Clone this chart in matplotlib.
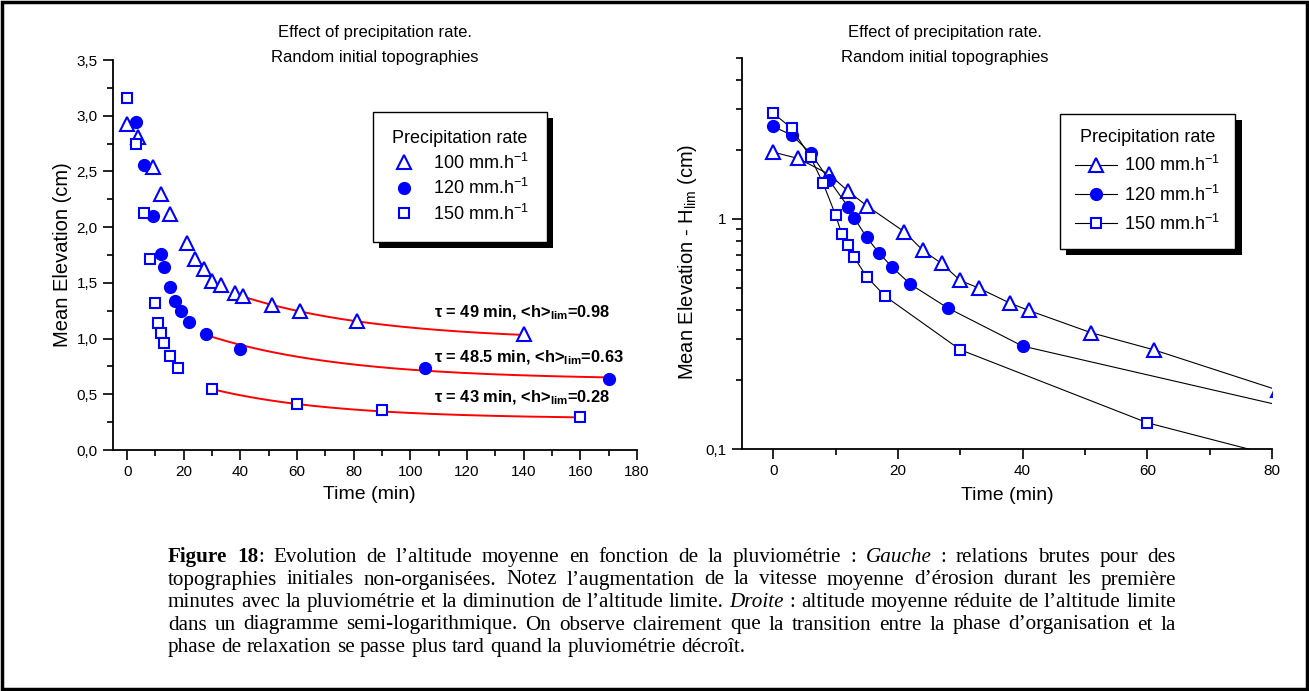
import re
import matplotlib as mpl
mpl.use('Agg')
import matplotlib.pyplot as plt
import matplotlib.patheffects as pe
import numpy as np
from matplotlib.lines import Line2D
from matplotlib.patches import Rectangle
from matplotlib.ticker import FuncFormatter, MultipleLocator, LogLocator, NullFormatter

plt.rcParams['font.family'] = ['Liberation Sans', 'DejaVu Sans']
plt.rcParams['mathtext.fontset'] = 'custom'
plt.rcParams['mathtext.rm'] = 'Liberation Sans'
plt.rcParams['mathtext.it'] = 'Liberation Sans:italic'
plt.rcParams['mathtext.bf'] = 'Liberation Sans:bold'

# --- data ---
t_100 = [0, 4, 9, 12, 15, 21, 24, 27, 30, 33, 38, 41, 51, 61, 81, 140]
h_100 = [2.93, 2.81, 2.54, 2.30, 2.12, 1.86, 1.71, 1.62, 1.52, 1.48, 1.41, 1.38, 1.30, 1.25, 1.16, 1.04]
t_120 = [0, 3, 6, 9, 12, 13, 15, 17, 19, 22, 28, 40, 105, 170]
h_120 = [3.15, 2.94, 2.56, 2.10, 1.76, 1.64, 1.46, 1.34, 1.25, 1.15, 1.04, 0.91, 0.74, 0.64]
t_150 = [0, 3, 6, 8, 10, 11, 12, 13, 15, 18, 30, 60, 90, 160]
h_150 = [3.16, 2.75, 2.13, 1.71, 1.32, 1.14, 1.05, 0.96, 0.84, 0.74, 0.55, 0.41, 0.36, 0.30]

rates = ['100', '120', '150']
series_t = [t_100, t_120, t_150]
series_h = [h_100, h_120, h_150]

# exponential relaxation fits  h = hlim + A exp(-t/tau)
tau = [49, 48.5, 43]
hlim = [0.98, 0.63, 0.28]
fit_amp = [0.915, 0.715, 0.535]
fit_start = [38, 28, 30]
fit_end = [140, 170, 160]

BLUE = '#0000ff'
mstyle = [
    dict(marker='^', ms=9.5, mfc='white', mec=BLUE, mew=1.5),
    dict(marker='o', ms=8.5, mfc=BLUE, mec=BLUE, mew=1),
    dict(marker='s', ms=7.5, mfc='white', mec=BLUE, mew=1.5),
]

W, H = 1309, 691
fig = plt.figure(figsize=(W / 100, H / 100), dpi=100)


def px(x0, y0, x1, y1):
    return [x0 / W, 1 - y1 / H, (x1 - x0) / W, (y1 - y0) / H]


ax1 = fig.add_axes(px(113, 60, 637, 450))
ax2 = fig.add_axes(px(742, 58, 1272, 449))

comma = FuncFormatter(lambda v, p: f'{v:.1f}'.replace('.', ','))
XLAB = 14
YLAB = 14.5
LEG = 13

for ax in (ax1, ax2):
    for s in ('top', 'right'):
        ax.spines[s].set_visible(False)
    for s in ('left', 'bottom'):
        ax.spines[s].set_linewidth(1.3)
    ax.tick_params(which='major', direction='out', length=7, width=1.2, labelsize=11, pad=4)
    ax.tick_params(which='minor', direction='out', length=4, width=1.2)

# ---- left panel ----
# the t=0 point of the 120 mm/h series sits hidden under the 150 mm/h square
start = [0, 1, 0]
for t, h, st, s0 in zip(series_t, series_h, mstyle, start):
    ax1.plot(t[s0:], h[s0:], ls='none', **st, zorder=3)

for k in range(3):
    tt = np.linspace(fit_start[k], fit_end[k], 200)
    ax1.plot(tt, hlim[k] + fit_amp[k] * np.exp(-tt / tau[k]), color='red', lw=1.4, zorder=2)

ann_y = [1.195, 0.79, 0.425]
for k in range(3):
    ax1.text(108.5, ann_y[k],
             f'τ = {tau[k]:g} min, <h>' + r'$_{\mathbf{lim}}$' + f'={hlim[k]:.2f}',
             fontsize=11.8, fontweight='bold', ha='left', va='baseline')

ax1.set_xlim(-5, 180)
ax1.set_ylim(0, 3.5)
ax1.xaxis.set_major_locator(MultipleLocator(20))
ax1.xaxis.set_minor_locator(MultipleLocator(10))
ax1.yaxis.set_major_locator(MultipleLocator(0.5))
ax1.yaxis.set_minor_locator(MultipleLocator(0.25))
ax1.yaxis.set_major_formatter(comma)
ax1.set_xlabel('Time (min)', fontsize=XLAB)
ax1.xaxis.set_label_coords(0.49, -0.113)
ax1.xaxis.label.set_va('center')
ax1.set_ylabel('Mean Elevation (cm)', fontsize=YLAB)
ax1.yaxis.set_label_coords(-0.097, 0.5)
ax1.yaxis.label.set_va('center')

h1 = [Line2D([], [], ls='none', **st) for st in mstyle]
lab = [f'{r} mm.h' + r'$^{-1}$' for r in rates]
leg1 = ax1.legend(h1, lab, title='Precipitation rate', loc='upper left',
                  bbox_to_anchor=(373 / W, 1 - 112 / H), bbox_transform=fig.transFigure,
                  fancybox=False, edgecolor='black', framealpha=1, fontsize=LEG,
                  title_fontsize=LEG, borderaxespad=0, borderpad=1.0,
                  handlelength=1.4, handletextpad=0.9, labelspacing=0.3)
leg1.get_frame().set_linewidth(1.0)
leg1.get_frame().set_path_effects([pe.SimplePatchShadow(offset=(4.5, -4.5), shadow_rgbFace='black', alpha=1),
                                   pe.Normal()])

# ---- right panel: elevation minus limit height, semi-log ----
for k in range(3):
    hr = np.array(series_h[k]) - hlim[k]
    ax2.plot(series_t[k], hr, color='black', lw=0.8, **mstyle[k], zorder=3)

ax2.set_yscale('log')
ax2.set_xlim(-5, 80)
ax2.set_ylim(0.1, 5)
ax2.xaxis.set_major_locator(MultipleLocator(20))
ax2.xaxis.set_minor_locator(MultipleLocator(10))
ax2.yaxis.set_major_locator(LogLocator(base=10))
ax2.yaxis.set_minor_locator(LogLocator(base=10, subs=np.arange(2, 10)))
ax2.yaxis.set_major_formatter(FuncFormatter(lambda v, p: f'{v:g}'.replace('.', ',')))
ax2.yaxis.set_minor_formatter(NullFormatter())
ax2.set_xlabel('Time (min)', fontsize=XLAB)
ax2.xaxis.set_label_coords(0.5, -0.12)
ax2.xaxis.label.set_va('center')
ax2.set_ylabel('Mean Elevation - H' + r'$_{\mathrm{lim}}$' + ' (cm)', fontsize=YLAB)
ax2.yaxis.set_label_coords(-0.102, 0.48)
ax2.yaxis.label.set_va('center')

h2 = [Line2D([], [], color='black', lw=0.8, **st) for st in mstyle]
leg2 = ax2.legend(h2, lab, title='Precipitation rate', loc='upper left',
                  bbox_to_anchor=(1060 / W, 1 - 114 / H), bbox_transform=fig.transFigure,
                  fancybox=False, edgecolor='black', framealpha=1, fontsize=LEG,
                  title_fontsize=LEG, borderaxespad=0, borderpad=0.85,
                  handlelength=2.3, handletextpad=0.4, labelspacing=0.5)
leg2.get_frame().set_linewidth(1.0)
leg2.get_frame().set_path_effects([pe.SimplePatchShadow(offset=(4.5, -4.5), shadow_rgbFace='black', alpha=1),
                                   pe.Normal()])

# ---- titles ----
for cx, y0 in ((375, 32), (945, 32)):
    fig.text(cx / W, 1 - y0 / H, 'Effect of precipitation rate.', ha='center', va='center', fontsize=12)
    fig.text(cx / W, 1 - (y0 + 25.5) / H, 'Random initial topographies', ha='center', va='center', fontsize=12)

# ---- caption (justified) ----
caption = [
    '**Figure 18**: Evolution de l’altitude moyenne en fonction de la pluviométrie : *Gauche* : relations brutes pour des',
    'topographies initiales non-organisées. Notez l’augmentation de la vitesse moyenne d’érosion durant les première',
    'minutes avec la pluviométrie et la diminution de l’altitude limite. *Droite* : altitude moyenne réduite de l’altitude limite',
    'dans un diagramme semi-logarithmique. On observe clairement que la transition entre la phase d’organisation et la',
    'phase de relaxation se passe plus tard quand la pluviométrie décroît.',
]
CAP_X0, CAP_X1, CAP_Y0, CAP_DY = 168, 1176, 562, 22.5
cap_font = dict(family='Liberation Serif', fontsize=15.2)
renderer = fig.canvas.get_renderer()


def seg_width(s, weight, style):
    t = fig.text(0, 0, s, fontweight=weight, fontstyle=style, **cap_font)
    w = t.get_window_extent(renderer).width
    t.remove()
    return w


space_w = seg_width('a a', 'normal', 'normal') - seg_width('aa', 'normal', 'normal')
bold = ital = False
for i, line in enumerate(caption):
    words = []
    for w in line.split(' '):
        segs = []
        for piece in re.split(r'(\*\*|\*)', w):
            if piece == '**':
                bold = not bold
            elif piece == '*':
                ital = not ital
            elif piece:
                wt, stl = ('bold' if bold else 'normal'), ('italic' if ital else 'normal')
                segs.append((piece, wt, stl, seg_width(piece, wt, stl)))
        words.append(segs)
    widths = [sum(s[3] for s in wd) for wd in words]
    if i < len(caption) - 1:
        gap = max((CAP_X1 - CAP_X0 - sum(widths)) / (len(words) - 1), space_w)
    else:
        gap = space_w
    x = CAP_X0
    y = 1 - (CAP_Y0 + i * CAP_DY) / H
    for wd, ww in zip(words, widths):
        xx = x
        for s, wt, stl, sw in wd:
            fig.text(xx / W, y, s, fontweight=wt, fontstyle=stl, ha='left', va='baseline', **cap_font)
            xx += sw
        x += ww + gap

# page frame
fig.add_artist(Rectangle((2 / W, 2 / H), 1 - 4 / W, 1 - 4 / H, transform=fig.transFigure,
                         fill=False, lw=2.5, edgecolor='black'))

fig.savefig('out.png', dpi=100)
